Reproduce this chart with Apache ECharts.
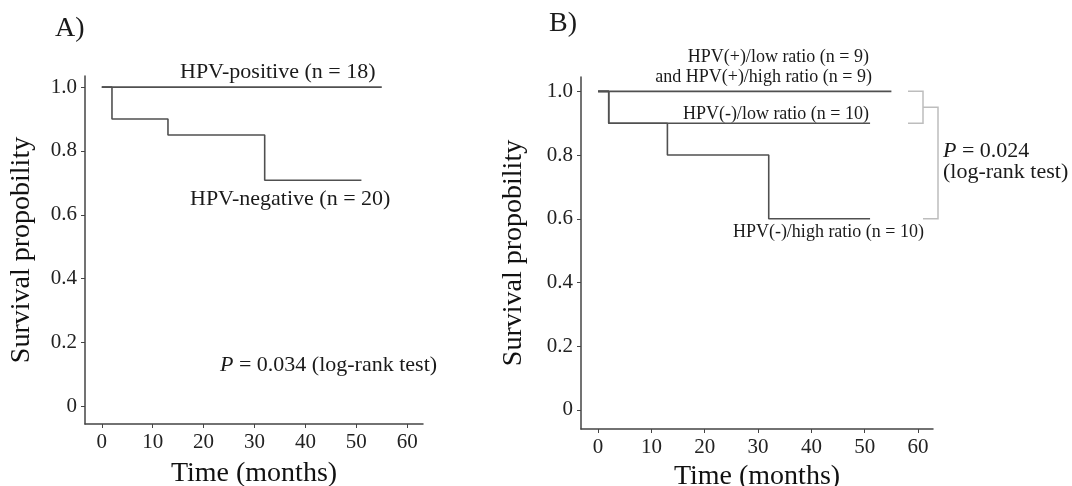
<!DOCTYPE html>
<html>
<head>
<meta charset="utf-8">
<script src="https://cdn.jsdelivr.net/npm/echarts@6/dist/echarts.min.js"></script>
<style>
  html, body { margin: 0; padding: 0; background: #fff; }
  #main { width: 1072px; height: 486px; }
</style>
</head>
<body>
<div id="main"></div>
<script>
var timeTicks = [0, 10, 20, 30, 40, 50, 60];
var probTicks = [0, 0.2, 0.4, 0.6, 0.8, 1.0];

// Panel A
var posTime = [0, 55];
var posSurv = [1, 1];
var negTime = [0, 2, 13, 32, 51];
var negSurv = [1, 0.9, 0.85, 0.708, 0.708];

// Panel B
var plusTime = [0, 55];
var plusSurv = [1, 1];
var lowTime = [0, 2, 51];
var lowSurv = [1, 0.9, 0.9];
var highTime = [0, 2, 13, 32, 51];
var highSurv = [1, 0.9, 0.8, 0.6, 0.6];

var font = "'Liberation Serif', 'Times New Roman', serif";
var axisColor = '#444';
var lineColor = '#505050';

function pairs(xs, ys) {
  return xs.map(function (x, i) { return [x, ys[i]]; });
}

function xAxisFor(idx, min, max, gap) {
  return {
    gridIndex: idx, type: 'value', min: min, max: max,
    name: 'Time (months)', nameLocation: 'middle', nameGap: gap,
    nameTextStyle: { fontFamily: font, fontSize: 28, color: '#111' },
    axisLine: { onZero: false, lineStyle: { color: axisColor, width: 1.5 } },
    axisTick: { length: 4, customValues: timeTicks, lineStyle: { color: axisColor } },
    axisLabel: { customValues: timeTicks, margin: 8, fontFamily: font, fontSize: 21, color: '#222' },
    splitLine: { show: false }
  };
}

function yAxisFor(idx, min, max, gap) {
  return {
    gridIndex: idx, type: 'value', min: min, max: max,
    name: 'Survival propobility', nameLocation: 'middle', nameGap: gap,
    nameTextStyle: { fontFamily: font, fontSize: 28, color: '#111' },
    axisLine: { show: true, onZero: false, lineStyle: { color: axisColor, width: 1.5 } },
    axisTick: { show: true, length: 4, customValues: probTicks, lineStyle: { color: axisColor } },
    axisLabel: {
      customValues: probTicks, margin: 8, fontFamily: font, fontSize: 21, color: '#222',
      formatter: function (v) { return v === 0 ? '0' : v.toFixed(1); }
    },
    splitLine: { show: false }
  };
}

function km(name, xi, data) {
  return {
    name: name, type: 'line', step: 'end', xAxisIndex: xi, yAxisIndex: xi,
    data: data, symbol: 'none', silent: true,
    lineStyle: { color: lineColor, width: 1.6 }
  };
}

function label(text, x, y, size, align) {
  return {
    type: 'text', x: x, y: y, silent: true,
    style: {
      text: text, fontFamily: font, fontSize: size, fill: '#1a1a1a',
      align: align || 'left', verticalAlign: 'middle',
      rich: { i: { fontStyle: 'italic', fontFamily: font, fontSize: size, fill: '#1a1a1a' } }
    }
  };
}

var chart = echarts.init(document.getElementById('main'));
chart.setOption({
  animation: false,
  grid: [
    { left: 85, top: 76, width: 338, height: 348, outerBoundsMode: 'none' },
    { left: 581, top: 77, width: 352, height: 352, outerBoundsMode: 'none' }
  ],
  xAxis: [xAxisFor(0, -3.3, 63.1, 36), xAxisFor(1, -3.2, 62.8, 33)],
  yAxis: [yAxisFor(0, -0.056, 1.035, 49), yAxisFor(1, -0.06, 1.045, 53)],
  series: [
    km('HPV-positive', 0, pairs(posTime, posSurv)),
    km('HPV-negative', 0, pairs(negTime, negSurv)),
    km('HPV(+)', 1, pairs(plusTime, plusSurv)),
    km('HPV(-)/low', 1, pairs(lowTime, lowSurv)),
    km('HPV(-)/high', 1, pairs(highTime, highSurv))
  ]
});

// bracket y positions follow the B axis
var yTop = chart.convertToPixel({ yAxisIndex: 1 }, 1.0);
var yMid = chart.convertToPixel({ yAxisIndex: 1 }, 0.9);
var yBot = chart.convertToPixel({ yAxisIndex: 1 }, 0.6);
var yJoin = (yTop + yMid) / 2;
var bracket = { stroke: '#bdbdbd', lineWidth: 1.5, fill: null };

chart.setOption({
  graphic: [
    label('A)', 55, 29, 28),
    label('B)', 549, 24, 28),
    label('HPV-positive (n = 18)', 180, 72, 22),
    label('HPV-negative (n = 20)', 190, 199, 22),
    label('{i|P} = 0.034 (log-rank test)', 220, 365, 22),
    label('HPV(+)/low ratio (n = 9)', 869, 57, 18, 'right'),
    label('and HPV(+)/high ratio (n = 9)', 872, 77, 18, 'right'),
    label('HPV(-)/low ratio (n = 10)', 869, 114, 18, 'right'),
    label('HPV(-)/high ratio (n = 10)', 924, 232, 18, 'right'),
    label('{i|P} = 0.024', 943, 151, 22),
    label('(log-rank test)', 943, 172, 22),
    { type: 'polyline', silent: true, shape: { points: [[908, yTop], [923, yTop], [923, yMid], [908, yMid]] }, style: bracket },
    { type: 'polyline', silent: true, shape: { points: [[923, yJoin], [938, yJoin], [938, yBot], [923, yBot]] }, style: bracket }
  ]
});
</script>
</body>
</html>
